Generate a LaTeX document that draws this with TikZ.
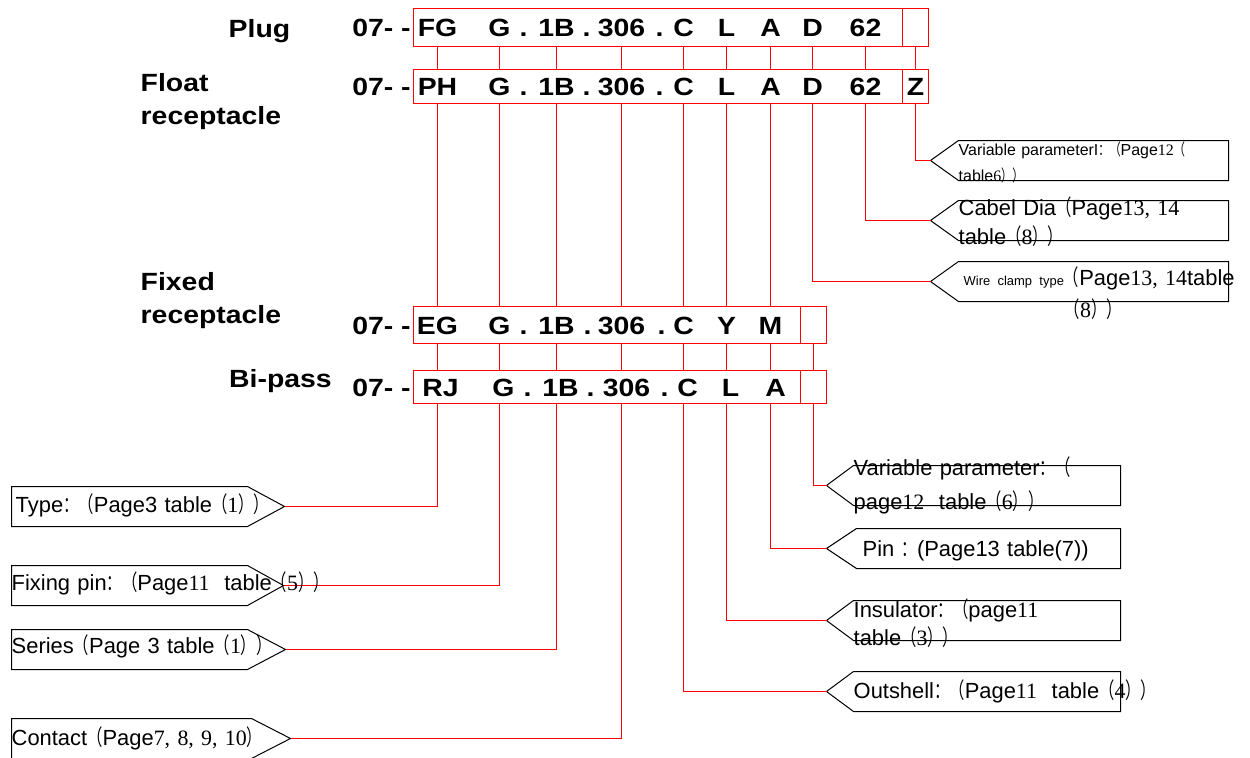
\documentclass[tikz,border=0pt]{standalone}
\usepackage{fontspec}
\setmainfont{Liberation Sans}
\newfontfamily\codefont[FakeStretch=1.14]{Liberation Sans}
\newfontfamily\numfont{Liberation Serif}
\newfontfamily\cjk[FakeStretch=0.7]{Noto Sans CJK SC}
\newcommand\zc{{\cjk ：}}
\newcommand\zl{{\cjk （}}
\newcommand\zr{{\cjk ）}}
\newcommand\sfig[1]{{\numfont #1}}

% callout outline: name, tip x, near x, far x, centre y
\newcommand\callout[5]{%
  \coordinate (#1) at (#2,#5);
  \draw[tagline] (#1) -- (#3,#5-20) -- (#4,#5-20) -- (#4,#5+20) -- (#3,#5+20) -- cycle;}

\tikzset{
  codebox/.style={draw=red, line width=1.2bp, inner sep=0pt},
  codetxt/.style={font=\codefont\bfseries\fontsize{25}{25}\selectfont, inner sep=0pt, text height=18bp, text depth=0pt},
  rowlbl/.style={font=\codefont\bfseries\fontsize{25}{33}\selectfont, inner sep=0pt, text width=200bp, align=left, anchor=base west},
  wire/.style={draw=red, line width=1.2bp},
  tagline/.style={draw=black, line width=1bp},
  tagtxt/.style={inner sep=0pt, anchor=base west, text width=320bp, align=left, font=\fontsize{22}{22}\selectfont},
}

\begin{document}
\begin{tikzpicture}[x=1bp,y=-1bp]
\useasboundingbox (0,0) rectangle (1250,758);
\begin{scope}[shift={(0.5,0.5)}]

% row names
\node[codetxt] (plug-l) at (259,28) {Plug};
\node[rowlbl] (float-l) at (140,91) {Float\\receptacle};
\node[rowlbl] (fixed-l) at (140,290) {Fixed\\receptacle};
\node[codetxt] (bipass-l) at (280,378) {Bi-pass};

% plug
\node[codebox, minimum width=515bp, minimum height=38bp] (plug) at (670.5,27) {};
\node[codebox, minimum width=26bp, minimum height=38bp] (p-end) at (915,27) {};
\node[codetxt] (p-pre) at (381,27) {07- -};
\node[codetxt] (p-fg) at (437,27) {FG};
\node[codetxt] (p-g) at (499,27) {G};
\node[codetxt] (p-d1) at (523,27) {.};
\node[codetxt] (p-1b) at (556,27) {1B};
\node[codetxt] (p-d2) at (586,27) {.};
\node[codetxt] (p-306) at (621,27) {306};
\node[codetxt] (p-d3) at (659,27) {.};
\node[codetxt] (p-c) at (683,27) {C};
\node[codetxt] (p-l) at (726,27) {L};
\node[codetxt] (p-a) at (770,27) {A};
\node[codetxt] (p-d) at (812,27) {D};
\node[codetxt] (p-62) at (865,27) {62};

% float receptacle
\node[codebox, minimum width=515bp, minimum height=34bp] (float) at (670.5,86) {};
\node[codebox, minimum width=26bp, minimum height=34bp, codetxt] (f-z) at (915,86) {Z};
\node[codetxt] (f-pre) at (381,86) {07- -};
\node[codetxt] (f-ph) at (437,86) {PH};
\node[codetxt] (f-g) at (499,86) {G};
\node[codetxt] (f-d1) at (523,86) {.};
\node[codetxt] (f-1b) at (556,86) {1B};
\node[codetxt] (f-d2) at (586,86) {.};
\node[codetxt] (f-306) at (621,86) {306};
\node[codetxt] (f-d3) at (659,86) {.};
\node[codetxt] (f-c) at (683,86) {C};
\node[codetxt] (f-l) at (726,86) {L};
\node[codetxt] (f-a) at (770,86) {A};
\node[codetxt] (f-d) at (812,86) {D};
\node[codetxt] (f-62) at (865,86) {62};

% fixed receptacle
\node[codebox, minimum width=413bp, minimum height=37bp] (fixed) at (619.5,324.5) {};
\node[codebox, minimum width=26bp, minimum height=37bp] (x-end) at (813,324.5) {};
\node[codetxt] (x-pre) at (381,325) {07- -};
\node[codetxt] (x-eg) at (437,325) {EG};
\node[codetxt] (x-g) at (499,325) {G};
\node[codetxt] (x-d1) at (523,325) {.};
\node[codetxt] (x-1b) at (556,325) {1B};
\node[codetxt] (x-d2) at (587,325) {.};
\node[codetxt] (x-306) at (621,325) {306};
\node[codetxt] (x-d3) at (661,325) {.};
\node[codetxt] (x-c) at (683,325) {C};
\node[codetxt] (x-y) at (726,325) {Y};
\node[codetxt] (x-m) at (770,325) {M};

% bi-pass
\node[codebox, minimum width=413bp, minimum height=33bp] (bipass) at (619.5,386.5) {};
\node[codebox, minimum width=26bp, minimum height=33bp] (b-end) at (813,386.5) {};
\node[codetxt] (b-pre) at (381,387) {07- -};
\node[codetxt] (b-rj) at (440,387) {RJ};
\node[codetxt] (b-g) at (503,387) {G};
\node[codetxt] (b-d1) at (527,387) {.};
\node[codetxt] (b-1b) at (560,387) {1B};
\node[codetxt] (b-d2) at (590,387) {.};
\node[codetxt] (b-306) at (626,387) {306};
\node[codetxt] (b-d3) at (664,387) {.};
\node[codetxt] (b-c) at (687,387) {C};
\node[codetxt] (b-l) at (730,387) {L};
\node[codetxt] (b-a) at (775,387) {A};

% plug to float
\draw[wire] (plug.south -| p-fg) -- (float.north -| p-fg);
\draw[wire] (plug.south -| p-g) -- (float.north -| p-g);
\draw[wire] (plug.south -| p-1b) -- (float.north -| p-1b);
\draw[wire] (plug.south -| p-306) -- (float.north -| p-306);
\draw[wire] (plug.south -| p-c) -- (float.north -| p-c);
\draw[wire] (plug.south -| p-l) -- (float.north -| p-l);
\draw[wire] (plug.south -| p-a) -- (float.north -| p-a);
\draw[wire] (plug.south -| p-d) -- (float.north -| p-d);
\draw[wire] (plug.south -| p-62) -- (float.north -| p-62);
\draw[wire] (p-end.south) -- (f-z.north);

% float to fixed
\draw[wire] (float.south -| f-ph) -- (fixed.north -| f-ph);
\draw[wire] (float.south -| f-g) -- (fixed.north -| f-g);
\draw[wire] (float.south -| f-1b) -- (fixed.north -| f-1b);
\draw[wire] (float.south -| f-306) -- (fixed.north -| f-306);
\draw[wire] (float.south -| f-c) -- (fixed.north -| f-c);
\draw[wire] (float.south -| f-l) -- (fixed.north -| f-l);
\draw[wire] (float.south -| f-a) -- (fixed.north -| f-a);

% fixed to bi-pass
\draw[wire] (fixed.south -| f-ph) -- (bipass.north -| f-ph);
\draw[wire] (fixed.south -| f-g) -- (bipass.north -| f-g);
\draw[wire] (fixed.south -| f-1b) -- (bipass.north -| f-1b);
\draw[wire] (fixed.south -| f-306) -- (bipass.north -| f-306);
\draw[wire] (fixed.south -| f-c) -- (bipass.north -| f-c);
\draw[wire] (fixed.south -| f-l) -- (bipass.north -| f-l);
\draw[wire] (fixed.south -| f-a) -- (bipass.north -| f-a);
\draw[wire] (x-end.south) -- (b-end.north);

% callouts
\callout{vp1}{930}{958}{1228}{160}
\callout{cab}{930}{958}{1228}{220}
\callout{clamp}{930}{958}{1228}{281}
\callout{vp2}{826}{853}{1120}{485}
\callout{pin}{826}{856}{1120}{548}
\callout{ins}{826}{853}{1120}{620}
\callout{outs}{826}{853}{1120}{691}
\callout{type}{284}{247}{11}{506}
\callout{fix}{283}{247}{11}{585}
\callout{ser}{285}{247}{11}{649}
\callout{cont}{290}{251}{11}{738}

% leaders
\draw[wire] (float.south -| f-z) |- (vp1);
\draw[wire] (float.south -| f-62) |- (cab);
\draw[wire] (float.south -| f-d) |- (clamp);
\draw[wire] (b-end.south) |- (vp2);
\draw[wire] (bipass.south -| f-a) |- (pin);
\draw[wire] (bipass.south -| f-l) |- (ins);
\draw[wire] (bipass.south -| f-c) |- (outs);
\draw[wire] (bipass.south -| f-ph) |- (type);
\draw[wire] (bipass.south -| f-g) |- (fix);
\draw[wire] (bipass.south -| f-1b) |- (ser);
\draw[wire] (bipass.south -| f-306) |- (cont);

% callout texts
\node[tagtxt, font=\fontsize{16}{26}\selectfont] (vp1-t) at (958,155) {Variable parameterI\zc\zl Page\sfig{12}\zl\\table\sfig{6}\zr\zr};
\node[tagtxt, font=\fontsize{22}{29}\selectfont] (cab-t) at (958,215) {Cabel Dia\zl Page\sfig{13, 14}\\table\zl\sfig{8}\zr\zr};
\node[tagtxt] (clamp-t) at (963,285) {{\fontsize{13}{13}\selectfont Wire clamp type}\zl Page\sfig{13, 14}table};
\node[tagtxt] (clamp-t2) at (1064,317) {\zl\sfig{8}\zr\zr};
\node[tagtxt, font=\fontsize{22}{34}\selectfont] (vp2-t) at (853,475) {Variable parameter\zc\zl\\page\sfig{12}\ \ table\zl\sfig{6}\zr\zr};
\node[tagtxt] (pin-t) at (862,556) {Pin \zc(Page13 table(7))};
\node[tagtxt, font=\fontsize{22}{28}\selectfont] (ins-t) at (853,617) {Insulator\zc\zl page\sfig{11}\\table\zl\sfig{3}\zr\zr};
\node[tagtxt] (outs-t) at (853,698) {Outshell\zc\zl Page\sfig{11}\ \ table\zl\sfig{4}\zr\zr};
\node[tagtxt] (type-t) at (15,512) {Type\zc\zl Page3 table\zl\sfig{1}\zr\zr};
\node[tagtxt] (fix-t) at (11,590) {Fixing pin\zc\zl Page\sfig{11}\ \ table\zl\sfig{5}\zr\zr};
\node[tagtxt] (ser-t) at (11,653) {Series\zl Page 3 table\zl\sfig{1}\zr\zr};
\node[tagtxt] (cont-t) at (11,745) {Contact\zl Page\sfig{7, 8, 9, 10}\zr};
\end{scope}
\end{tikzpicture}
\end{document}
